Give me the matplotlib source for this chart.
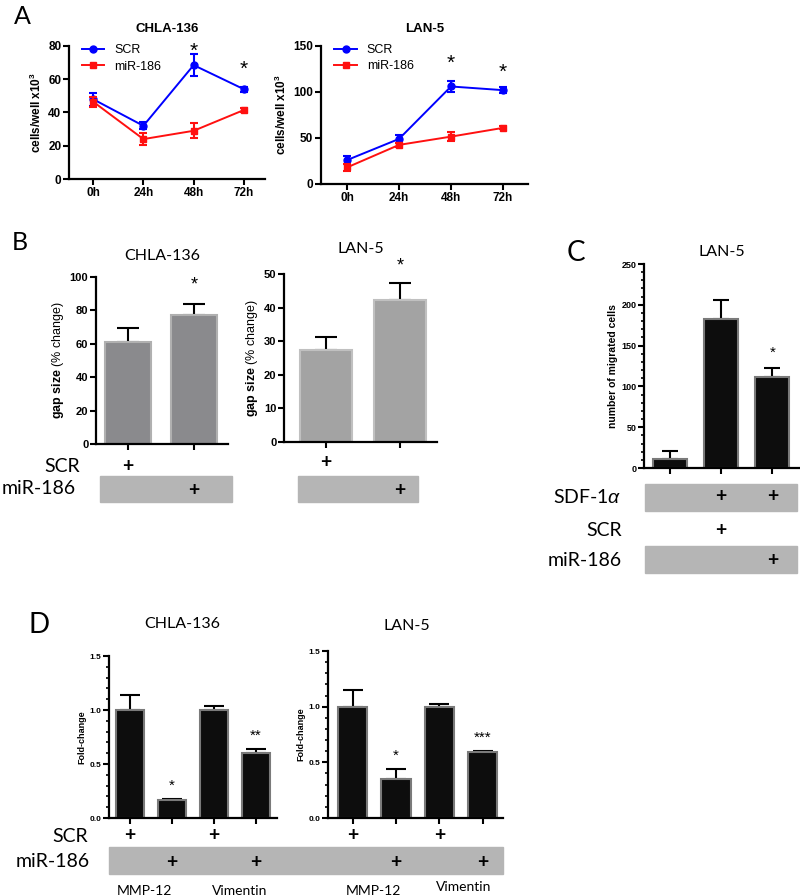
import numpy as np
import matplotlib
matplotlib.use("Agg")
import matplotlib.pyplot as plt
from matplotlib.patches import Rectangle
from matplotlib.transforms import blended_transform_factory
from matplotlib.ticker import MultipleLocator

plt.rcParams['font.family'] = ['Liberation Sans', 'DejaVu Sans']
plt.rcParams['mathtext.fontset'] = 'custom'
plt.rcParams['mathtext.rm'] = 'Liberation Sans:bold'
plt.rcParams['mathtext.bf'] = 'Liberation Sans:bold'
plt.rcParams['mathtext.it'] = 'Liberation Sans:italic'

# ---- data ----
timepoints = ['0h', '24h', '48h', '72h']
a_chla_scr = [48, 32, 68.5, 54]
a_chla_scr_err = [4, 2, 6.5, 1.5]
a_chla_mir = [46.5, 24, 29, 41.5]
a_chla_mir_err = [3, 3.5, 4.5, 1]
a_chla_stars = [None, None, 77, 66]
a_lan_scr = [26, 49, 106, 102]
a_lan_scr_err = [4, 4, 5.5, 3]
a_lan_mir = [18, 42.5, 51.5, 61]
a_lan_mir_err = [4, 2, 4.5, 1.5]
a_lan_stars = [None, None, 131, 121]

b_chla = [61, 77]
b_chla_err = [8.3, 7]
b_lan = [27.5, 42.3]
b_lan_err = [3.8, 5.1]
b_scr = [1, 0]
b_mir = [0, 1]

c_vals = [11, 183, 112]
c_err = [10, 23, 11]
c_stars = ['', '', '*']
c_sdf = [0, 1, 1]
c_scr = [0, 1, 0]
c_mir = [0, 0, 1]

d_chla = [1.0, 0.17, 1.0, 0.605]
d_chla_err = [0.135, 0.005, 0.04, 0.035]
d_chla_stars = ['', '*', '', '**']
d_lan = [1.0, 0.35, 1.0, 0.595]
d_lan_err = [0.15, 0.09, 0.02, 0.01]
d_lan_stars = ['', '*', '', '***']
d_scr = [1, 0, 1, 0]
d_mir = [0, 1, 0, 1]
d_genes = ['MMP-12', 'Vimentin']

W, H = 800, 896
fig = plt.figure(figsize=(W / 100, H / 100), dpi=100)
CAL = ['Lato', 'DejaVu Sans']
GREY = '#b5b5b5'


def box(l, t, r, b):
    return fig.add_axes([l / W, 1 - b / H, (r - l) / W, (b - t) / H])


def ftext(x, y, s, **kw):
    fig.text(x / W, 1 - y / H, s, **kw)


def grey_box(l, t, r, b):
    fig.patches.append(Rectangle((l / W, 1 - b / H), (r - l) / W, (b - t) / H,
                                 transform=fig.transFigure, color=GREY, zorder=-1))


def style(ax, size):
    for s in ['top', 'right']:
        ax.spines[s].set_visible(False)
    for s in ['left', 'bottom']:
        ax.spines[s].set_linewidth(1.6)
    ax.tick_params(width=1.5, length=4, labelsize=size, pad=1.5)
    ax.tick_params(which='minor', width=1.2, length=2.5)
    for lab in ax.get_xticklabels() + ax.get_yticklabels():
        lab.set_fontweight('bold')


def plus_row(ax, flags, ypix, size):
    tr = blended_transform_factory(ax.transData, fig.transFigure)
    for i, f in enumerate(flags):
        if f:
            ax.text(i, 1 - ypix / H, '+', transform=tr, ha='center', va='center',
                    fontsize=size, family=CAL, fontweight='bold', clip_on=False, zorder=5)


# ---- panel A ----
def line_panel(ax, scr, scr_e, mir, mir_e, stars, ymax, step):
    x = np.arange(len(timepoints))
    for y, e, c, m, lab in [(scr, scr_e, '#0000ff', 'o', 'SCR'),
                            (mir, mir_e, '#ff1010', 's', 'miR-186')]:
        ax.errorbar(x, y, yerr=e, fmt='none', ecolor=c, capsize=3,
                    elinewidth=1.5, capthick=1.5)
        ax.plot(x, y, color=c, marker=m, ms=5, lw=1.4, label=lab)
    for i, s in enumerate(stars):
        if s is not None:
            ax.text(i, s, '*', ha='center', va='center', fontsize=15)
    ax.set_xticks(x)
    ax.set_xticklabels(timepoints)
    ax.set_ylim(0, ymax)
    ax.set_yticks(np.arange(0, ymax + 1, step))
    ax.set_ylabel(r'cells/well x10$^{3}$', fontsize=8.5, fontweight='bold', labelpad=3)
    style(ax, 8.5)
    ax.legend(loc='upper left', bbox_to_anchor=(0.04, 1.05), frameon=False, fontsize=9,
              handlelength=1.8, borderaxespad=0, labelspacing=0.35)


ax = box(69, 46, 265, 179)
line_panel(ax, a_chla_scr, a_chla_scr_err, a_chla_mir, a_chla_mir_err, a_chla_stars, 80, 20)
ax.set_xlim(-0.48, 3.42)
ax.set_title('CHLA-136', fontsize=9.5, fontweight='bold', pad=10)

ax = box(321, 46, 528, 184)
line_panel(ax, a_lan_scr, a_lan_scr_err, a_lan_mir, a_lan_mir_err, a_lan_stars, 150, 50)
ax.set_xlim(-0.5, 3.48)
ax.set_title('LAN-5', fontsize=9.5, fontweight='bold', pad=10)

ftext(22, 16, 'A', fontsize=18, family=CAL, ha='center', va='center')

# ---- panel B ----
def bar_panel(ax, vals, errs, color, edge, width, capsize):
    x = np.arange(len(vals))
    ax.bar(x, vals, width=width, color=color, edgecolor=edge, linewidth=1.5, zorder=2)
    ax.errorbar(x, vals, yerr=[np.zeros(len(vals)), errs], fmt='none', ecolor='black',
                elinewidth=1.5, capsize=capsize, capthick=1.5, zorder=1)
    ax.set_xticks(x)
    ax.set_xticklabels([''] * len(vals))


ax = box(96, 277, 228, 444)
bar_panel(ax, b_chla, b_chla_err, '#8a8a8d', '#b0b0b0', 0.7, 8)
ax.set_xlim(-0.485, 1.515)
ax.set_ylim(0, 100)
ax.set_yticks([0, 20, 40, 60, 80, 100])
ax.text(1, 95, '*', ha='center', va='center', fontsize=13)
ax.set_ylabel(r'$\mathbf{gap\ size}$ (% change)', fontsize=9, labelpad=3)
style(ax, 8)
ax.set_title('CHLA-136', fontsize=11.5, family=CAL, pad=12)
plus_row(ax, b_scr, 467, 14)
plus_row(ax, b_mir, 490, 14)
grey_box(100, 476, 232, 502)

ax = box(284, 274, 437, 442)
bar_panel(ax, b_lan, b_lan_err, '#a3a3a3', '#c0c0c0', 0.7, 8)
ax.set_xlim(-0.57, 1.5)
ax.set_ylim(0, 50)
ax.set_yticks([0, 10, 20, 30, 40, 50])
ax.text(1, 52.5, '*', ha='center', va='center', fontsize=13, clip_on=False)
ax.set_ylabel(r'$\mathbf{gap\ size}$ (% change)', fontsize=9, labelpad=3)
style(ax, 8)
ax.set_title('LAN-5', fontsize=11.5, family=CAL, pad=15)
plus_row(ax, b_scr, 462, 14)
plus_row(ax, b_mir, 490, 14)
grey_box(298, 476, 418, 502)

ftext(80, 467, 'SCR', fontsize=14, family=CAL, ha='right', va='center')
ftext(76, 488, 'miR-186', fontsize=14, family=CAL, ha='right', va='center')
ftext(20, 242, 'B', fontsize=18, family=CAL, ha='center', va='center')

# ---- panel C ----
ax = box(644, 264, 799, 468)
bar_panel(ax, c_vals, c_err, '#0d0d0d', '#7a7a7a', 0.66, 6)
ax.set_xlim(-0.5, 2.52)
ax.set_ylim(0, 250)
ax.set_yticks([0, 50, 100, 150, 200, 250])
ax.yaxis.set_minor_locator(MultipleLocator(10))
for i, s in enumerate(c_stars):
    if s:
        ax.text(i, c_vals[i] + c_err[i] + 18, s, ha='center', va='center', fontsize=11)
ax.set_ylabel('number of migrated cells', fontsize=7.5, fontweight='bold', labelpad=2)
style(ax, 6.5)
ax.set_title('LAN-5', fontsize=11.5, family=CAL, pad=6)
grey_box(645, 484, 797, 511)
grey_box(645, 546, 797, 573)
plus_row(ax, c_sdf, 496, 14)
plus_row(ax, c_scr, 530, 14)
plus_row(ax, c_mir, 560, 14)
ftext(622, 497, r'SDF-1$\alpha$', fontsize=14, family=CAL, ha='right', va='center')
ftext(622, 530, 'SCR', fontsize=14, family=CAL, ha='right', va='center')
ftext(622, 560, 'miR-186', fontsize=14, family=CAL, ha='right', va='center')
ftext(576, 253, 'C', fontsize=20, family=CAL, ha='center', va='center')

# ---- panel D ----
def d_panel(ax, vals, errs, stars):
    bar_panel(ax, vals, errs, '#0d0d0d', '#7a7a7a', 0.67, 7)
    ax.set_ylim(0, 1.5)
    ax.set_yticks([0, 0.5, 1.0, 1.5])
    ax.set_yticklabels(['0.0', '0.5', '1.0', '1.5'])
    ax.yaxis.set_minor_locator(MultipleLocator(0.1))
    for i, s in enumerate(stars):
        if s:
            ax.text(i, vals[i] + errs[i] + 0.12, s, ha='center', va='center', fontsize=11)
    ax.set_ylabel('Fold-change', fontsize=6.5, fontweight='bold', labelpad=2)
    style(ax, 6)


grey_box(109, 847, 503, 874)

ax = box(109, 656, 277, 818)
d_panel(ax, d_chla, d_chla_err, d_chla_stars)
ax.set_xlim(-0.5, 3.5)
plus_row(ax, d_scr, 835, 14)
plus_row(ax, d_mir, 862, 14)
tr = blended_transform_factory(ax.transData, fig.transFigure)
for k, g in enumerate(d_genes):
    ax.text(2 * k + 0.35 + 0.25 * k, 1 - 891 / H, g, transform=tr, ha='center',
            va='center', fontsize=10, family=CAL, clip_on=False)

ax = box(328, 651, 503, 818)
d_panel(ax, d_lan, d_lan_err, d_lan_stars)
ax.set_xlim(-0.57, 3.47)
plus_row(ax, d_scr, 835, 14)
plus_row(ax, d_mir, 862, 14)
tr = blended_transform_factory(ax.transData, fig.transFigure)
for k, g in enumerate(d_genes):
    ax.text(2 * k + 0.47 + 0.08 * k, 1 - (891 - 4 * k) / H, g, transform=tr, ha='center',
            va='center', fontsize=10, family=CAL, clip_on=False)

ftext(182, 624, 'CHLA-136', fontsize=11.5, family=CAL, ha='center', va='center')
ftext(407, 626, 'LAN-5', fontsize=11.5, family=CAL, ha='center', va='center')
ftext(88, 836, 'SCR', fontsize=14, family=CAL, ha='right', va='center')
ftext(90, 861, 'miR-186', fontsize=14, family=CAL, ha='right', va='center')
ftext(39, 625, 'D', fontsize=20, family=CAL, ha='center', va='center')

fig.savefig('out.png', dpi=100)
